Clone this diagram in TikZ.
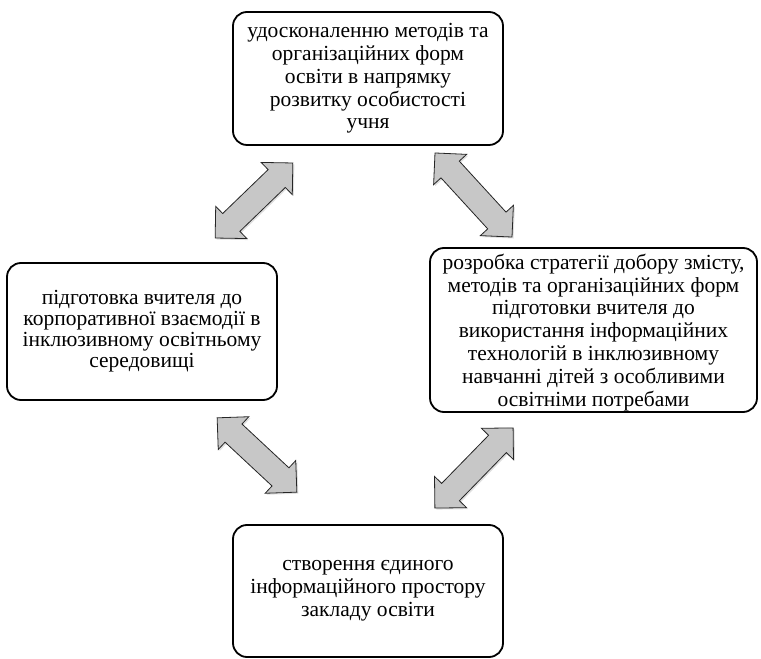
\documentclass[tikz,border=0pt]{standalone}
\usepackage{fontspec}
\setmainfont{Liberation Serif}
\usetikzlibrary{shapes.arrows,shadows}
\begin{document}
\begin{tikzpicture}[x=1pt,y=1pt,
  box/.style={draw=black,line width=1.8pt,rounded corners=14pt,align=center,inner sep=0pt,
    font=\fontsize{21.5}{22.8}\selectfont},
  darr/.style={double arrow,draw=black!85,line width=0.8pt,fill=black!22,inner xsep=0pt,inner ysep=12pt,
    double arrow head extend=10pt,double arrow head indent=0pt,
    drop shadow={shadow xshift=1.5pt,shadow yshift=-1.5pt,opacity=0.25}}]
\useasboundingbox (0,0) rectangle (761,659);
\node[box,minimum width=270pt,minimum height=133pt] (top) at (368,580.5)
  {удосконаленню методів та\\організаційних форм\\освіти в напрямку\\розвитку особистості\\учня};
\node[box,minimum width=270pt,minimum height=137pt,font=\fontsize{21.5}{21}\selectfont] (left) at (142,327.5)
  {підготовка вчителя до\\корпоративної взаємодії в\\інклюзивному освітньому\\середовищі};
\node[box,minimum width=327pt,minimum height=164pt,text depth=-4pt] (right) at (593.5,329)
  {розробка стратегії добору змісту,\\методів та організаційних форм\\підготовки вчителя до\\використання інформаційних\\технологій в інклюзивному\\навчанні дітей з особливими\\освітніми потребами};
\node[box,minimum width=270pt,minimum height=132pt] (bottom) at (368,68)
  {створення єдиного\\інформаційного простору\\закладу освіти};
\node[darr,minimum height=108pt,rotate=44] (a1) at (254,458.5) {};
\node[darr,minimum height=114pt,rotate=-47.5] (a2) at (473.5,464) {};
\node[darr,minimum height=109pt,rotate=-43] (a3) at (257,204) {};
\node[darr,minimum height=112pt,rotate=45.7] (a4) at (474,191) {};
\end{tikzpicture}
\end{document}
